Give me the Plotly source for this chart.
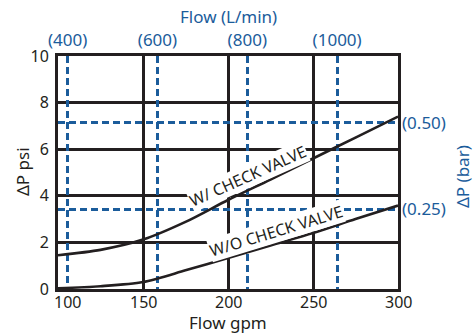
import plotly.graph_objects as go

# Pressure drop vs. flow, with and without check valve
flow_gpm = [100, 125, 150, 175, 200, 225, 250, 275, 300]
dp_with_valve = [1.45, 1.68, 2.12, 2.88, 3.82, 4.7, 5.6, 6.5, 7.4]
dp_without_valve = [0.03, 0.12, 0.3, 0.8, 1.33, 1.87, 2.4, 3.0, 3.58]

gpm_ticks = [100, 150, 200, 250, 300]
psi_ticks = [0, 2, 4, 6, 8, 10]
lpm_ticks = [400, 600, 800, 1000]
lpm_tick_text = ["(400)", "(600)", "(800)", "(1000)"]
bar_ticks = [0.25, 0.50]
bar_tick_text = ["(0.25)", "(0.50)"]

GPM_TO_LPM = 3.785
INK = "#231f20"
BLUE = "#1b5c9b"
FONT = "Noto Sans"

W, H = 475, 335
ML, MR, MT, MB = 58, 77, 56, 46
PW, PH = W - ML - MR, H - MT - MB


def px(x, y):
    """Pixel position -> paper coordinates."""
    return (x - ML) / PW, (H - MB - y) / PH


fig = go.Figure()
for series in (dp_with_valve, dp_without_valve):
    fig.add_trace(go.Scatter(x=flow_gpm, y=series, mode="lines",
                             line=dict(color=INK, width=2.6, shape="spline", smoothing=0.8),
                             hoverinfo="skip", showlegend=False))
# invisible traces to activate the secondary axes
fig.add_trace(go.Scatter(x=[lpm_ticks[0]], y=[0], xaxis="x2", yaxis="y",
                         mode="markers", marker=dict(opacity=0), hoverinfo="skip", showlegend=False))
fig.add_trace(go.Scatter(x=[flow_gpm[0]], y=[bar_ticks[0]], xaxis="x", yaxis="y2",
                         mode="markers", marker=dict(opacity=0), hoverinfo="skip", showlegend=False))

tick_font = dict(family=FONT, size=16, color=INK)
blue_tick_font = dict(family=FONT, size=17, color=BLUE)
title_font = dict(family=FONT, size=17, color=INK)
blue_title_font = dict(family=FONT, size=17, color=BLUE)

fig.update_layout(
    width=W, height=H,
    margin=dict(l=ML, r=MR, t=MT, b=MB, pad=0),
    paper_bgcolor="white", plot_bgcolor="white",
    xaxis=dict(range=[100, 300], tickvals=gpm_ticks, showticklabels=False,
               showgrid=True, gridcolor=INK, gridwidth=2.6, zeroline=False,
               showline=True, linecolor=INK, linewidth=3, mirror=True, ticks=""),
    yaxis=dict(range=[0, 10], tickvals=psi_ticks,
               showgrid=True, gridcolor=INK, gridwidth=2.6, zeroline=False,
               showline=True, linecolor=INK, linewidth=3, mirror=True,
               ticks="", tickfont=tick_font, ticklabelstandoff=3),
    xaxis2=dict(overlaying="x", side="top",
                range=[100 * GPM_TO_LPM, 300 * GPM_TO_LPM],
                tickvals=lpm_ticks, ticktext=lpm_tick_text,
                showgrid=True, gridcolor=BLUE, gridwidth=2.6, griddash="7px,4px",
                zeroline=False, showline=False, ticks="", tickfont=blue_tick_font,
                ticklabelstandoff=6),
    yaxis2=dict(overlaying="y", side="right", range=[0.0195, 0.693],
                tickvals=bar_ticks, ticktext=bar_tick_text,
                showgrid=True, gridcolor=BLUE, gridwidth=2.6, griddash="7px,4px",
                zeroline=False, showline=False, ticks="", tickfont=blue_tick_font,
                ticklabelstandoff=3),
)

ann = []
# axis titles
x, y = px(228, 17)
ann.append(dict(text="Flow (L/min)", x=x, y=y, yanchor="middle", font=blue_title_font))
x, y = px(228, 335)
ann.append(dict(text="Flow gpm", x=x, y=y, yanchor="bottom", font=title_font))
x, y = px(22, 172)
ann.append(dict(text="ΔP psi", x=x, y=y, yanchor="middle", textangle=-90, font=title_font))
x, y = px(462, 177)
ann.append(dict(text="ΔP (bar)", x=x, y=y, yanchor="middle", textangle=-90, font=blue_title_font))
for a in ann:
    a.update(xref="paper", yref="paper", showarrow=False, xanchor="center", borderpad=0)

# bottom tick labels; the first one is nudged right, clear of the "0"
for i, t in enumerate(gpm_ticks):
    ann.append(dict(text=str(t), x=t, y=0, xref="x", yref="paper",
                    xanchor="center", yanchor="top", yshift=-1, borderpad=0,
                    xshift=9 if i == 0 else 0, showarrow=False, font=tick_font))

# curve labels on white boxes
curve_font = dict(family=FONT, size=16, color=INK)
ann.append(dict(text="W/ CHECK VALVE", x=211.5, y=4.85, xref="x", yref="y",
                textangle=-24, showarrow=False, bgcolor="white", borderpad=0,
                font=curve_font))
ann.append(dict(text="W/O CHECK VALVE", x=228.1, y=2.5, xref="x", yref="y",
                textangle=-17, showarrow=False, bgcolor="white", borderpad=0,
                font=curve_font))
fig.update_layout(annotations=ann)

fig.write_html("out.html")
